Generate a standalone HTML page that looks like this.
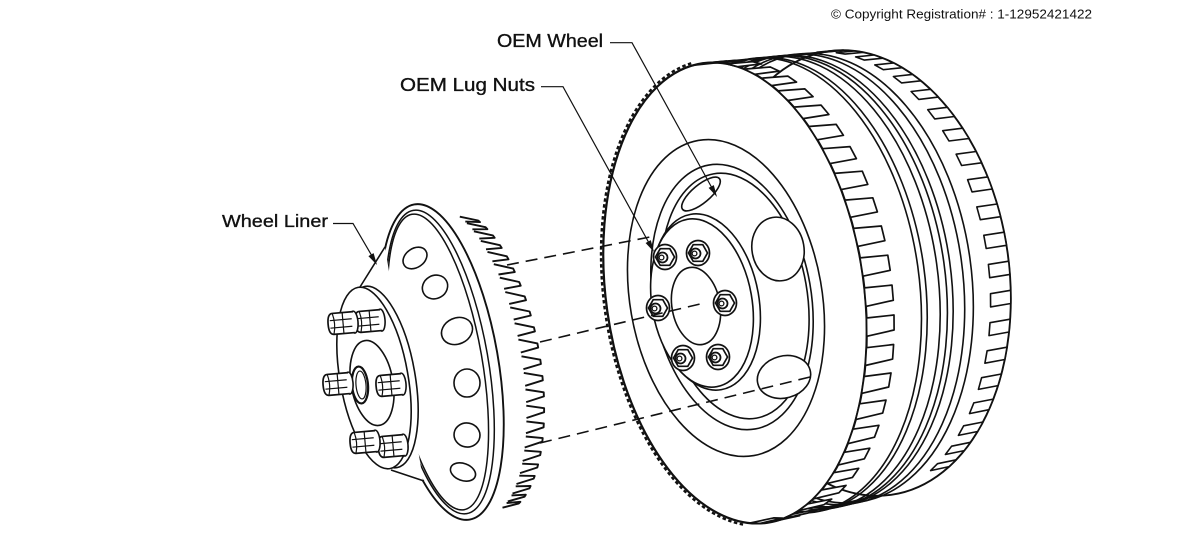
<!DOCTYPE html>
<html><head><meta charset="utf-8">
<style>
html,body{margin:0;padding:0;background:#fff;}
svg{display:block;}
text{font-family:"Liberation Sans",Arial,sans-serif;fill:#111;}
</style></head>
<body>
<svg id="s" width="1200" height="551" viewBox="0 0 1200 551" xmlns="http://www.w3.org/2000/svg">
<defs>
 <g id="nut">
  <ellipse rx="11.5" ry="12.5" fill="#fff" stroke="#111" stroke-width="1.7"/>
  <polygon points="9.5,0 4.8,-8.3 -4.8,-8.3 -9.5,0 -4.8,8.3 4.8,8.3" fill="#fff" stroke="#111" stroke-width="1.7"/>
  <circle cx="-2.5" cy="0.5" r="5" fill="#fff" stroke="#111" stroke-width="1.8"/>
  <circle cx="-3.5" cy="0.5" r="2.4" fill="none" stroke="#111" stroke-width="1.3"/>
 </g>
 <g id="stud">
  <ellipse cx="-1" cy="0" rx="4" ry="11" fill="#fff" stroke="#111" stroke-width="1.6"/>
  <path d="M-1,-10.5 L-22,-10.5 Q-27,-10.5 -27,0 Q-27,10.5 -22,10.5 L-1,10.5" fill="#fff" stroke="#111" stroke-width="1.7"/>
  <path d="M-25,-3.5 H-3 M-25,4 H-3 M-12,-10.5 V10.5" fill="none" stroke="#111" stroke-width="1.2"/>
  <path d="M-22,-10.5 Q-19,0 -22,10.5" fill="none" stroke="#111" stroke-width="1.2"/>
 </g>
</defs>
<rect width="1200" height="551" fill="#fff"/>

<!-- ================= TIRE ================= -->
<g fill="none" stroke="#111" stroke-width="1.6">
 <ellipse cx="782.5" cy="285.4" rx="136.6" ry="229" transform="rotate(-8 782.5 285.4)"/>
 <ellipse cx="787.5" cy="284.6" rx="137.4" ry="228.6" transform="rotate(-8 787.5 284.6)"/>
 <ellipse cx="798.75" cy="282.8" rx="139.2" ry="227.9" transform="rotate(-8 798.75 282.8)"/>
 <ellipse cx="805" cy="281.8" rx="140.2" ry="227.5" transform="rotate(-8 805 281.8)"/>
 <ellipse cx="810" cy="281" rx="141" ry="227.2" transform="rotate(-8 810 281)"/>
 <ellipse cx="820" cy="279.4" rx="142.6" ry="226.6" transform="rotate(-8 820 279.4)"/>
 <ellipse cx="827.5" cy="278.2" rx="143.8" ry="226.1" transform="rotate(-8 827.5 278.2)"/>
 <ellipse cx="860" cy="273" rx="149" ry="224" transform="rotate(-8 860 273)" stroke-width="1.9"/>
 <path d="M713,62.6 L842.6,50.3 M757,523.4 L877.4,495.7" stroke-width="1.8"/>
 <path d="M691.2,63.3 A131.5 234.5 -8 0 0 744.5 524.8" stroke-width="2.4" stroke-dasharray="3.5 2.5"/>
</g>
<ellipse cx="735" cy="293" rx="129" ry="232" transform="rotate(-8 735 293)" fill="#fff" stroke="#111" stroke-width="2.2"/>
<g id="fblocks" fill="#fff" stroke="#111" stroke-width="1.7" stroke-linejoin="round"></g>
<g id="bblocks" fill="#fff" stroke="#111" stroke-width="1.6" stroke-linejoin="round"></g>

<!-- wheel face -->
<g fill="none" stroke="#111" stroke-width="1.6">
 <ellipse cx="726" cy="298" rx="96" ry="160" transform="rotate(-10 726 298)"/>
 <ellipse cx="732" cy="297" rx="79" ry="134" transform="rotate(-10 732 297)"/>
 <ellipse cx="735" cy="296" rx="72" ry="124" transform="rotate(-10 735 296)"/>
</g>
<g fill="#fff" stroke="#111" stroke-width="1.6">
 <ellipse cx="701" cy="194" rx="24" ry="9" transform="rotate(-40 701 194)"/>
 <ellipse cx="778" cy="249" rx="26" ry="32" transform="rotate(-10 778 249)"/>
 <ellipse cx="784" cy="377" rx="27" ry="21" transform="rotate(-15 784 377)"/>
 <ellipse cx="706" cy="302" rx="53" ry="89" transform="rotate(-10 706 302)"/>
 <ellipse cx="702" cy="303" rx="50" ry="85" transform="rotate(-10 702 303)"/>
 <ellipse cx="696" cy="306" rx="24" ry="39" transform="rotate(-10 696 306)"/>
</g>
<use href="#nut" x="665" y="257"/>
<use href="#nut" x="698" y="253"/>
<use href="#nut" x="658" y="308"/>
<use href="#nut" x="725" y="303"/>
<use href="#nut" x="683" y="358"/>
<use href="#nut" x="718" y="357"/>

<!-- ================= LINER ================= -->
<g id="teeth" fill="#fff" stroke="#111" stroke-width="1.9" stroke-linejoin="round"></g>
<ellipse cx="442" cy="362" rx="56" ry="160" transform="rotate(-10 442 362)" fill="#fff" stroke="#111" stroke-width="1.9"/>
<g fill="none" stroke="#111" stroke-width="1.5">
 <ellipse cx="440" cy="362" rx="48" ry="154" transform="rotate(-10 440 362)"/>
 <ellipse cx="438" cy="362" rx="44" ry="150" transform="rotate(-10 438 362)"/>
</g>
<polygon points="360,287 385,247 423,480 393,470" fill="#fff"/>
<path d="M360,287 L385,247 M391,470 L424,481" stroke="#111" stroke-width="1.6" fill="none"/>
<g fill="#fff" stroke="#111" stroke-width="1.6">
 <ellipse cx="415" cy="258" rx="13" ry="9.5" transform="rotate(-35 415 258)"/>
 <ellipse cx="435" cy="287" rx="13" ry="11.5" transform="rotate(-30 435 287)"/>
 <ellipse cx="457" cy="331" rx="16" ry="13" transform="rotate(-25 457 331)"/>
 <ellipse cx="467" cy="383" rx="13" ry="14"/>
 <ellipse cx="467" cy="435" rx="13" ry="12" transform="rotate(10 467 435)"/>
 <ellipse cx="463" cy="472" rx="13" ry="8.5" transform="rotate(20 463 472)"/>
 <ellipse cx="381" cy="377" rx="34" ry="92" transform="rotate(-10 381 377)"/>
 <ellipse cx="374" cy="378" rx="34" ry="92" transform="rotate(-10 374 378)"/>
</g>
<g fill="none" stroke="#111">
 <ellipse cx="372" cy="383" rx="21" ry="43" transform="rotate(-10 372 383)" stroke-width="1.6"/>
 <ellipse cx="360" cy="385" rx="8" ry="18.5" transform="rotate(-5 360 385)" stroke-width="2.2"/>
 <ellipse cx="361" cy="385" rx="5" ry="14" transform="rotate(-5 361 385)" stroke-width="1.2"/>
</g>
<use href="#stud" transform="translate(405,445) rotate(-5)"/>
<use href="#stud" transform="translate(403,384) rotate(-5)"/>
<use href="#stud" transform="translate(382,320) rotate(-5)"/>
<use href="#stud" transform="translate(377,441) rotate(-5)"/>
<use href="#stud" transform="translate(355,322) rotate(-5)"/>
<use href="#stud" transform="translate(350,383) rotate(-5)"/>

<!-- ================= ANNOTATIONS ================= -->
<g fill="none" stroke="#111" stroke-width="1.6" stroke-dasharray="12 7">
 <path d="M507,265 L655,236"/>
 <path d="M540,342 L700,304"/>
 <path d="M540,443 L810,377"/>
</g>
<g fill="none" stroke="#111" stroke-width="1.2">
 <path d="M610,42.7 L632,42.7 L712,188"/>
 <path d="M541,86.7 L563,86.7 L649,243"/>
 <path d="M333,223.5 L353,223.5 L372,256"/>
</g>
<g fill="#111">
 <polygon points="717,197 708.6,187.9 713.8,185.1"/>
 <polygon points="654,252 645.6,243 650.8,240.1"/>
 <polygon points="377,265 368.4,256.1 373.6,253.1"/>
</g>
<text x="497" y="47" font-size="18.5" textLength="106" lengthAdjust="spacingAndGlyphs" stroke="#111" stroke-width="0.35">OEM Wheel</text>
<text x="400" y="91" font-size="18.5" textLength="135" lengthAdjust="spacingAndGlyphs" stroke="#111" stroke-width="0.35">OEM Lug Nuts</text>
<text x="222" y="227" font-size="17.5" textLength="106" lengthAdjust="spacingAndGlyphs" stroke="#111" stroke-width="0.35">Wheel Liner</text>
<text x="831" y="18.5" font-size="12.5" textLength="261" lengthAdjust="spacingAndGlyphs">© Copyright Registration# : 1-12952421422</text>
</svg>
<script>
(function(){
var NS='http://www.w3.org/2000/svg', D=Math.PI/180;
function add(g,d){var p=document.createElementNS(NS,'path');p.setAttribute('d',d);g.appendChild(p);}
function E(cx,cy,rx,ry,th,phi){var c=Math.cos(th*D),s=Math.sin(th*D),lx=rx*Math.cos(phi*D),ly=ry*Math.sin(phi*D);return [cx+lx*c-ly*s, cy+lx*s+ly*c];}
function T(t,phi){return E(735+125*t,293-20*t,129+20*t,232-8*t,-8,phi);}
function R(t,phi){return E(442+30*t,362,56+8*t,160-6*t,-10,phi);}
function F(p){return p[0].toFixed(1)+' '+p[1].toFixed(1);}
function P(a){return 'M'+a.map(F).join(' L')+' Z';}
var fb=document.getElementById('fblocks'), f;
for(f=-92;f<=100;f+=7.5){add(fb,P([T(0,f-2.3),T(0.19,f-1.9),T(0.19,f+1.9),T(0,f+2.3)]));}
var bb=document.getElementById('bblocks');
for(f=-86;f<=70;f+=7.5){add(bb,P([T(0.86,f-1.7),T(1,f-1.7),T(1,f+1.7),T(0.86,f+1.7)]));}
var tg=document.getElementById('teeth');
for(f=-64;f<=74;f+=6.2){
  add(tg,'M'+F(R(0.62,f-2.4))+' L'+F(R(1.1,f-0.8))+' L'+F(R(1.1,f+0.8))+' L'+F(R(0.62,f+2.4)));
}
})();
</script>
</body></html>
